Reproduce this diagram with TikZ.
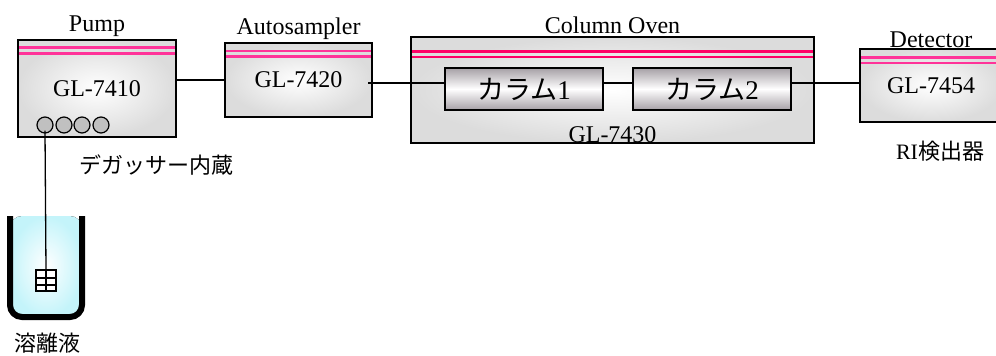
\documentclass[tikz,border=0pt]{standalone}
\usepackage{fontspec}
\setmainfont{Liberation Serif}
\newfontfamily\cjk{Noto Sans CJK JP}
\usetikzlibrary{positioning, calc}
\definecolor{boxgray}{RGB}{220,220,220}
\definecolor{colgray}{RGB}{166,160,166}
\definecolor{portgray}{RGB}{192,192,192}
\definecolor{stripepink}{RGB}{255,51,153}
\definecolor{stripered}{RGB}{255,0,102}
\definecolor{eluent}{RGB}{196,244,250}
\tikzstyle{unit} = [rectangle, draw=black, line width=2pt, outer sep=0pt, inner color=white, outer color=boxgray, font=\fontsize{24}{28}\selectfont]
\tikzstyle{column} = [rectangle, draw=black, line width=1.5pt, outer sep=0pt, top color=colgray, bottom color=colgray, middle color=white, minimum width=158pt, minimum height=42pt, font=\fontsize{27}{30}\selectfont]
\tikzstyle{port} = [circle, draw=black, line width=1.2pt, fill=portgray, minimum size=16pt, inner sep=0pt]
\tikzstyle{strainer} = [rectangle, draw=black, line width=2.5pt, fill=white, minimum width=20pt, minimum height=21pt, inner sep=0pt, outer sep=0pt]
\tikzstyle{jptext} = [font=\cjk\fontsize{22}{26}\selectfont]
\tikzstyle{stripe} = [line width=2.8pt, shorten <=1pt, shorten >=1pt]
\tikzstyle{pipe} = [line width=1.3pt, draw=black]

\begin{document}
\begin{tikzpicture}[x=1pt, y=-1pt, every label/.style={font=\fontsize{24}{28}\selectfont}]
  \useasboundingbox (0,0) rectangle (996,356);

  \node (pump) [unit, minimum width=158pt, minimum height=97pt, label=above:Pump] at (97,88.5) {GL-7410};
  \node (sampler) [unit, minimum width=147pt, minimum height=74pt, label=above:Autosampler] at (298.5,80) {GL-7420};
  \node (oven) [unit, minimum width=403pt, minimum height=106pt, label=above:Column Oven,
    label={[anchor=south, inner sep=0pt]south:GL-7430}] at (612.5,90) {};
  \node (det) [unit, minimum width=142pt, minimum height=73pt, label={[label distance=-2pt]above:Detector}] at (931,85.5) {GL-7454};

  \node (col1) [column] at (524,89) {\cjk カラム\rmfamily 1};
  \node (col2) [column, right=30pt of col1] {\cjk カラム\rmfamily 2};

  % stripes on top of the units
  \foreach \u/\a/\b/\c in {pump/7.5/13.5/stripepink, sampler/8/13.5/stripepink, det/8.5/14/stripepink, oven/14.5/20/stripered} {
    \draw[stripe, draw=\c] ([yshift=-\a pt]\u.north west) -- ([yshift=-\a pt]\u.north east);
    \draw[stripe, draw=\c] ([yshift=-\b pt]\u.north west) -- ([yshift=-\b pt]\u.north east);
  }

  \foreach \i/\x in {1/45, 2/64, 3/82, 4/101}
    \node (port\i) [port] at (\x,125) {};

  \node (degas) [jptext] at (156,165) {デガッサー内蔵};
  \node (ri) [jptext] at (940,151) {\rmfamily RI\cjk 検出器};

  % eluent bottle
  \fill[inner color=white, outer color=eluent, rounded corners=12pt] (10,216) -- (10,317) -- (82,317) -- (82,216) -- cycle;
  \draw[line width=6pt, rounded corners=12pt] (10,216) -- (10,317) -- (82,317) -- (82,216);
  \node (strainer) [strainer] at (46,280.5) {};
  \draw[line width=2pt] (strainer.north) -- (strainer.south);
  \draw[line width=2pt] ($(strainer.north west)!0.38!(strainer.south west)$) -- ($(strainer.north east)!0.38!(strainer.south east)$);
  \draw[line width=2pt] ($(strainer.north west)!0.7!(strainer.south west)$) -- ($(strainer.north east)!0.7!(strainer.south east)$);
  \node (eluent) [jptext] at (47,343) {溶離液};

  % tubing
  \coordinate (level) at ([yshift=6pt]col1.west);
  \draw[pipe] (pump.east |- sampler.west) -- (sampler.west);
  \draw[pipe] ([xshift=-4pt]sampler.east |- level) -- (level);
  \draw[pipe] (level -| col1.east) -- (level -| col2.west);
  \draw[pipe] (level -| col2.east) -- (level -| det.west);
  \draw[pipe] ([yshift=3pt]port1.south) -- (strainer.north);
\end{tikzpicture}
\end{document}
